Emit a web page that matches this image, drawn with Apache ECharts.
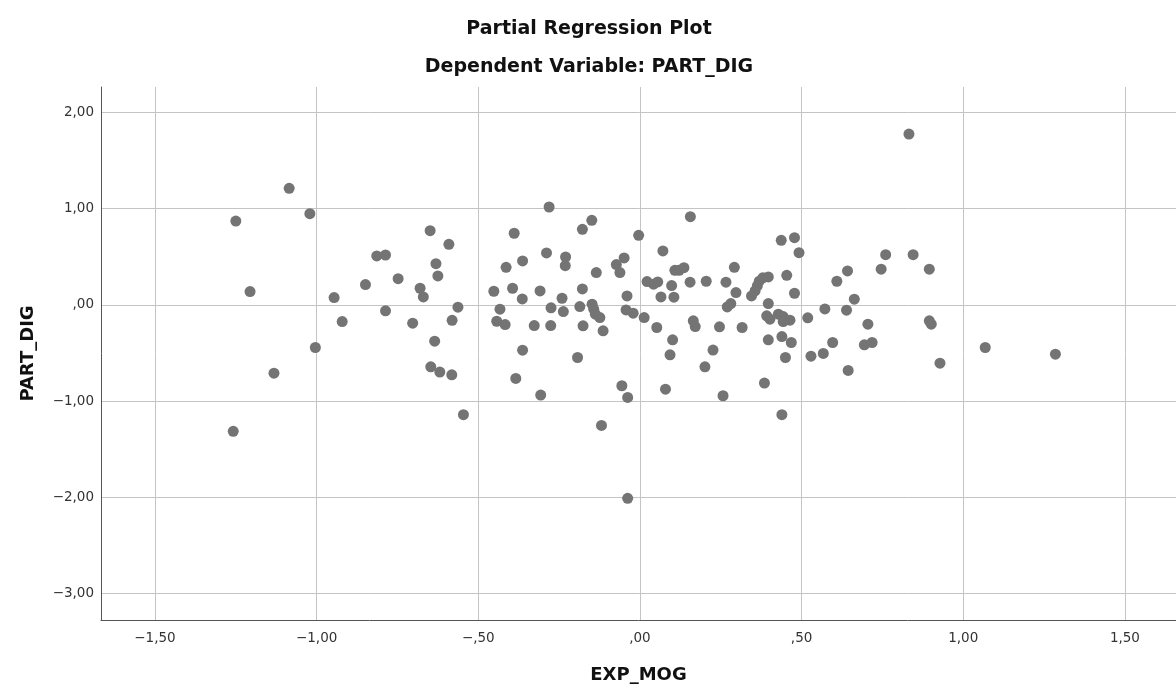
<!DOCTYPE html>
<html>
<head>
<meta charset="utf-8">
<script src="https://cdn.jsdelivr.net/npm/echarts@6/dist/echarts.min.js"></script>
<style>html,body{margin:0;padding:0;background:#fff}#c{width:1176px;height:697px}</style>
</head>
<body>
<div id="c"></div>
<script>
const titleText = "Partial Regression Plot";
const subtitleText = "Dependent Variable: PART_DIG";
const xName = "EXP_MOG";
const yName = "PART_DIG";
const xRange = [-1.667, 1.658];
const yRange = [-3.277, 2.266];
const xValues = [
 -1.250,-1.085,-1.021,-1.206,-0.814,-0.787,-0.748,-0.849,-0.946,-0.787,-0.921,-1.004,-1.132,-1.258,
 -0.649,-0.591,-0.631,-0.625,-0.680,-0.670,-0.563,-0.703,-0.581,-0.635,-0.647,-0.619,-0.582,-0.546,
 -0.389,-0.281,-0.363,-0.414,-0.289,-0.230,-0.231,-0.178,-0.149,-0.004,-0.135,-0.073,-0.062,-0.049,
 -0.452,-0.394,-0.364,-0.309,-0.241,-0.178,-0.040,-0.433,-0.275,-0.237,-0.186,-0.148,-0.143,-0.138,
 -0.124,-0.114,-0.043,-0.021,0.013,-0.443,-0.417,-0.327,-0.276,-0.176,-0.363,-0.193,-0.384,-0.307,
 -0.119,-0.056,-0.038,-0.038,
 0.071,0.156,0.108,0.121,0.136,0.155,0.205,0.266,0.292,0.297,0.022,0.042,0.055,0.098,0.065,0.105,
 0.270,0.281,0.345,0.356,0.363,0.369,0.380,0.397,0.397,0.392,0.402,0.428,0.443,0.464,0.443,0.397,
 0.437,0.226,0.101,0.093,0.052,0.165,0.171,0.246,0.316,0.079,0.201,0.257,0.385,0.439,0.439,0.468,
 0.450,0.832,0.478,0.492,0.454,0.478,0.519,0.572,0.639,0.663,0.642,0.609,0.760,0.746,0.845,0.895,
 0.705,0.895,0.901,0.596,0.694,0.718,0.529,0.567,0.928,1.068,1.285,0.644
];
const yValues = [
 0.872,1.212,0.948,0.138,0.509,0.519,0.273,0.211,0.076,-0.062,-0.173,-0.443,-0.710,-1.315,
 0.772,0.630,0.429,0.301,0.173,0.083,-0.024,-0.190,-0.160,-0.377,-0.644,-0.699,-0.727,-1.142,
 0.745,1.018,0.457,0.391,0.540,0.498,0.408,0.786,0.879,0.724,0.336,0.419,0.336,0.488,
 0.142,0.173,0.062,0.145,0.069,0.166,0.093,-0.045,-0.031,-0.069,-0.017,0.007,-0.045,-0.097,
 -0.132,-0.270,-0.052,-0.086,-0.132,-0.170,-0.205,-0.215,-0.215,-0.218,-0.471,-0.547,-0.765,-0.938,
 -1.253,-0.841,-0.962,-2.011,
 0.561,0.917,0.360,0.360,0.387,0.236,0.246,0.236,0.391,0.128,0.242,0.215,0.239,0.201,0.083,0.080,
 -0.021,0.014,0.093,0.145,0.197,0.247,0.281,0.291,0.014,-0.114,-0.149,-0.097,-0.121,-0.159,-0.173,-0.363,
 0.672,-0.470,-0.363,-0.519,-0.235,-0.166,-0.225,-0.228,-0.235,-0.876,-0.644,-0.945,-0.813,-1.142,-0.329,-0.391,
 -0.547,1.776,0.699,0.543,0.308,0.121,-0.135,-0.042,-0.055,0.059,0.353,0.246,0.522,0.371,0.522,0.371,
 -0.201,-0.166,-0.201,-0.391,-0.415,-0.391,-0.533,-0.505,-0.606,-0.443,-0.512,-0.682
];

function fmt(v) {
  const r = Math.round(v * 100) / 100;
  if (Math.abs(r * 2 - Math.round(r * 2)) > 1e-6) return '';
  let s = Math.abs(r).toFixed(2).replace('.', ',');
  if (s.startsWith('0')) s = s.slice(1);
  return (r < 0 ? '\u2212' : '') + s;
}

const data = xValues.map((x, i) => [x, yValues[i]]);
const chart = echarts.init(document.getElementById('c'), null, {renderer: 'canvas'});
const labelFont = {color: '#333', fontSize: 13.5, fontFamily: 'DejaVu Sans'};
const nameFont = {fontSize: 18, fontWeight: 'bold', fontFamily: 'DejaVu Sans', color: '#111'};
chart.setOption({
  animation: false,
  backgroundColor: '#fff',
  graphic: [
    {type: 'text', x: 589, y: 29, style: {text: titleText, font: 'bold 19px "DejaVu Sans"', fill: '#111', textAlign: 'center', textVerticalAlign: 'middle'}},
    {type: 'text', x: 589, y: 67, style: {text: subtitleText, font: 'bold 19px "DejaVu Sans"', fill: '#111', textAlign: 'center', textVerticalAlign: 'middle'}}
  ],
  grid: {left: 101, right: 0, top: 87, bottom: 77, containLabel: false},
  xAxis: {
    type: 'value', min: xRange[0], max: xRange[1], minInterval: 0.5, maxInterval: 0.5,
    name: xName, nameLocation: 'middle', nameGap: 46,
    nameTextStyle: nameFont,
    axisLine: {show: true, onZero: false, lineStyle: {color: '#555', width: 1}},
    axisTick: {show: false},
    axisLabel: Object.assign({formatter: fmt, margin: 11, showMinLabel: false, showMaxLabel: false}, labelFont),
    splitLine: {show: true, showMinLine: false, showMaxLine: false, lineStyle: {color: '#c4c4c4', width: 1}}
  },
  yAxis: {
    type: 'value', min: yRange[0], max: yRange[1], minInterval: 1, maxInterval: 1,
    name: yName, nameLocation: 'middle', nameGap: 64,
    nameTextStyle: nameFont,
    axisLine: {show: true, onZero: false, lineStyle: {color: '#555', width: 1}},
    axisTick: {show: false},
    axisLabel: Object.assign({formatter: fmt, margin: 7, showMinLabel: false, showMaxLabel: false}, labelFont),
    splitLine: {show: true, showMinLine: false, showMaxLine: false, lineStyle: {color: '#c4c4c4', width: 1}}
  },
  series: [{
    type: 'scatter', data: data, symbol: 'circle', symbolSize: 11,
    itemStyle: {color: '#747474', opacity: 1}
  }]
});
</script>
</body>
</html>
